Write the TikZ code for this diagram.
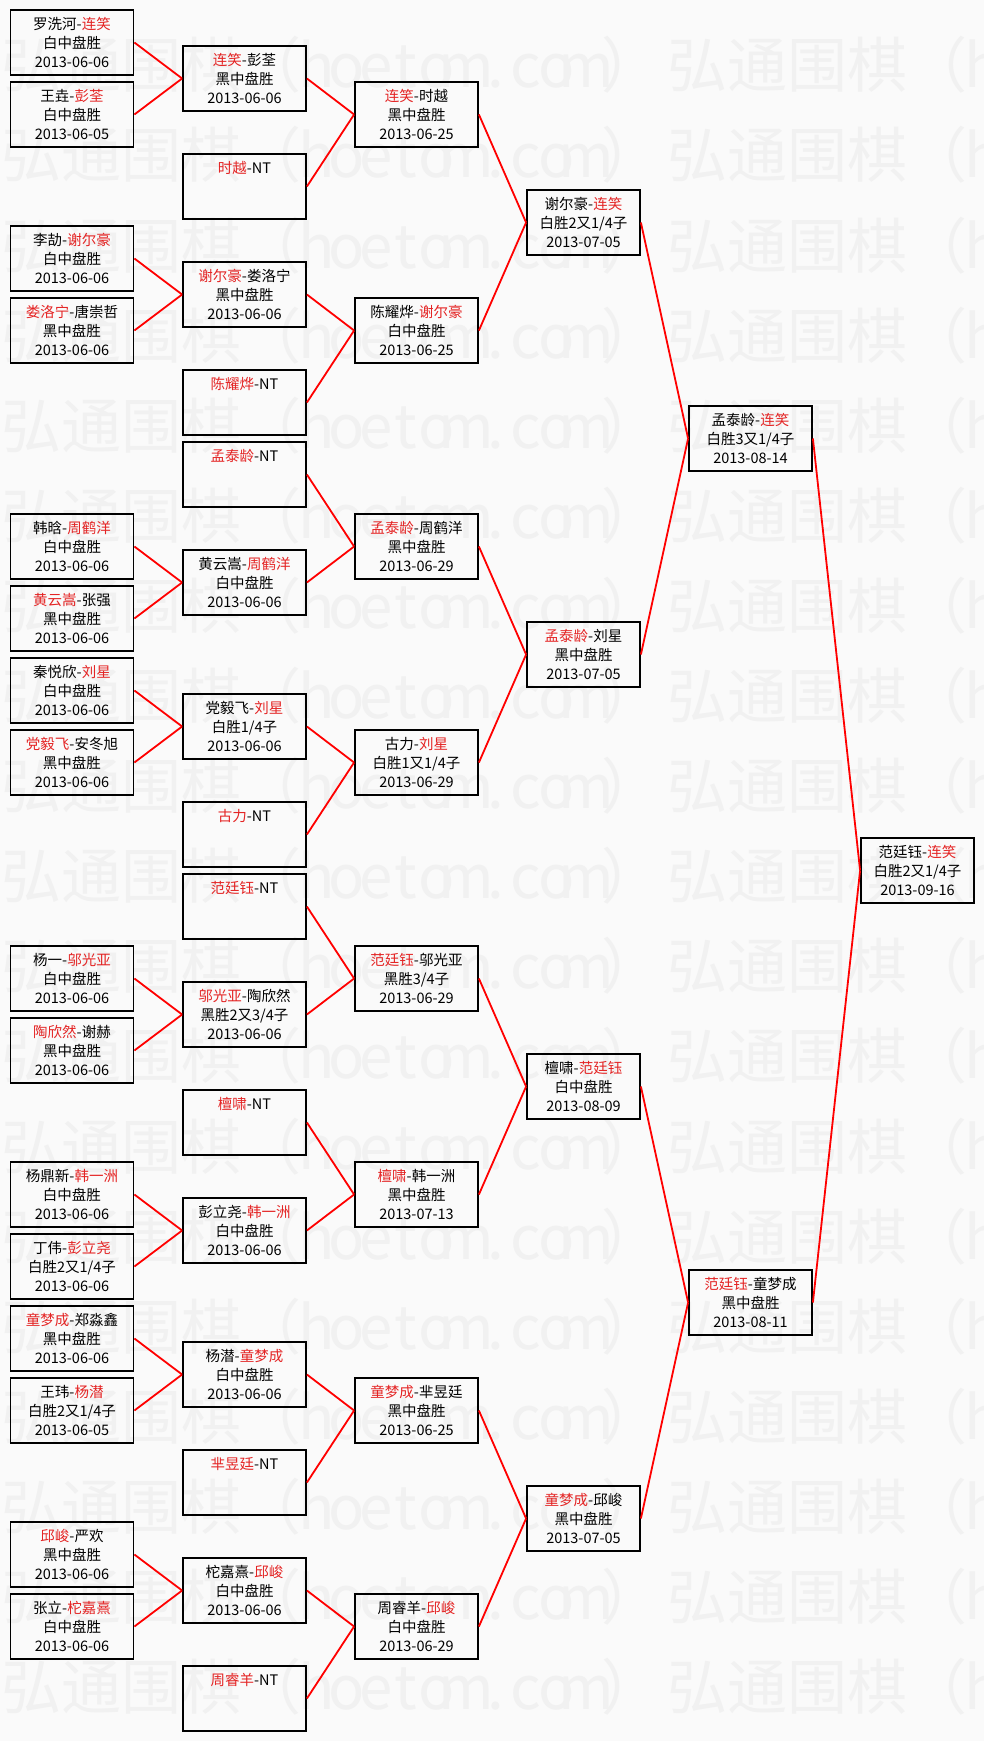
\documentclass[tikz,border=0pt]{standalone}
\usepackage{fontspec}
\usepackage{xcolor}
\newfontfamily\cjk{Noto Sans CJK SC}
\definecolor{winred}{RGB}{228,36,36}
\definecolor{paper}{RGB}{250,250,250}
\definecolor{wmgray}{RGB}{241,241,241}
\newcommand\win[1]{\textcolor{winred}{#1}}
\newcommand\hb[1]{\makebox[.5em]{#1}}
\tikzset{
  game/.style={draw, line width=1.8pt, inner sep=0pt, minimum height=65pt, align=center,
    font={\cjk\fontsize{14.5}{19}\selectfont}},
  wide/.style={game, minimum width=123pt},
  narrow/.style={game, minimum width=113pt},
  link/.style={draw=red, line width=1.8pt},
  wmark/.style={anchor=west, inner sep=0pt, text=wmgray, font={\cjk\fontsize{60}{60}\selectfont}},
}

\begin{document}
\begin{tikzpicture}[x=1pt,y=-1pt]
\useasboundingbox (0,0) rectangle (984,1741);
\fill[paper] (0,0) rectangle (984,1741);
\begin{scope}
\clip (0,0) rectangle (984,1741);
\foreach \k in {0,...,18} {
  \node[wmark] (wmA\k) at (1,{65+90.1*\k})
    {弘通围棋（\hb{h}\hb{o}\hb{e}\hb{t}\hb{o}\hb{m}\hb{.}\hb{c}\hb{o}\hb{m}）};
  \node[wmark] (wmB\k) at (667,{65+90.1*\k})
    {弘通围棋（\hb{h}\hb{o}\hb{e}\hb{t}\hb{o}\hb{m}\hb{.}\hb{c}\hb{o}\hb{m}）};
}
\end{scope}

% first round
\node[wide] (a1)  at (72,{42.5+72*0})  {罗洗河-\win{连笑}\\白中盘胜\\2013-06-06};
\node[wide] (a2)  at (72,{42.5+72*1})  {王垚-\win{彭荃}\\白中盘胜\\2013-06-05};
\node[wide] (a3)  at (72,{42.5+72*3})  {李劼-\win{谢尔豪}\\白中盘胜\\2013-06-06};
\node[wide] (a4)  at (72,{42.5+72*4})  {\win{娄洛宁}-唐崇哲\\黑中盘胜\\2013-06-06};
\node[wide] (a5)  at (72,{42.5+72*7})  {韩晗-\win{周鹤洋}\\白中盘胜\\2013-06-06};
\node[wide] (a6)  at (72,{42.5+72*8})  {\win{黄云嵩}-张强\\黑中盘胜\\2013-06-06};
\node[wide] (a7)  at (72,{42.5+72*9})  {秦悦欣-\win{刘星}\\白中盘胜\\2013-06-06};
\node[wide] (a8)  at (72,{42.5+72*10}) {\win{党毅飞}-安冬旭\\黑中盘胜\\2013-06-06};
\node[wide] (a9)  at (72,{42.5+72*13}) {杨一-\win{邬光亚}\\白中盘胜\\2013-06-06};
\node[wide] (a10) at (72,{42.5+72*14}) {\win{陶欣然}-谢赫\\黑中盘胜\\2013-06-06};
\node[wide] (a11) at (72,{42.5+72*16}) {杨鼎新-\win{韩一洲}\\白中盘胜\\2013-06-06};
\node[wide] (a12) at (72,{42.5+72*17}) {丁伟-\win{彭立尧}\\白胜2又1/4子\\2013-06-06};
\node[wide] (a13) at (72,{42.5+72*18}) {\win{童梦成}-郑淼鑫\\黑中盘胜\\2013-06-06};
\node[wide] (a14) at (72,{42.5+72*19}) {王玮-\win{杨潜}\\白胜2又1/4子\\2013-06-05};
\node[wide] (a15) at (72,{42.5+72*21}) {\win{邱峻}-严欢\\黑中盘胜\\2013-06-06};
\node[wide] (a16) at (72,{42.5+72*22}) {张立-\win{柁嘉熹}\\白中盘胜\\2013-06-06};

% second round, NT = bye
\node[wide] (b1)  at (244.5,{42.5+72*0.5})  {\win{连笑}-彭荃\\黑中盘胜\\2013-06-06};
\node[wide] (b2)  at (244.5,{42.5+72*2})    {\win{时越}-NT\\\mbox{}\\\mbox{}};
\node[wide] (b3)  at (244.5,{42.5+72*3.5})  {\win{谢尔豪}-娄洛宁\\黑中盘胜\\2013-06-06};
\node[wide] (b4)  at (244.5,{42.5+72*5})    {\win{陈耀烨}-NT\\\mbox{}\\\mbox{}};
\node[wide] (b5)  at (244.5,{42.5+72*6})    {\win{孟泰龄}-NT\\\mbox{}\\\mbox{}};
\node[wide] (b6)  at (244.5,{42.5+72*7.5})  {黄云嵩-\win{周鹤洋}\\白中盘胜\\2013-06-06};
\node[wide] (b7)  at (244.5,{42.5+72*9.5})  {党毅飞-\win{刘星}\\白胜1/4子\\2013-06-06};
\node[wide] (b8)  at (244.5,{42.5+72*11})   {\win{古力}-NT\\\mbox{}\\\mbox{}};
\node[wide] (b9)  at (244.5,{42.5+72*12})   {\win{范廷钰}-NT\\\mbox{}\\\mbox{}};
\node[wide] (b10) at (244.5,{42.5+72*13.5}) {\win{邬光亚}-陶欣然\\黑胜2又3/4子\\2013-06-06};
\node[wide] (b11) at (244.5,{42.5+72*15})   {\win{檀啸}-NT\\\mbox{}\\\mbox{}};
\node[wide] (b12) at (244.5,{42.5+72*16.5}) {彭立尧-\win{韩一洲}\\白中盘胜\\2013-06-06};
\node[wide] (b13) at (244.5,{42.5+72*18.5}) {杨潜-\win{童梦成}\\白中盘胜\\2013-06-06};
\node[wide] (b14) at (244.5,{42.5+72*20})   {\win{芈昱廷}-NT\\\mbox{}\\\mbox{}};
\node[wide] (b15) at (244.5,{42.5+72*21.5}) {柁嘉熹-\win{邱峻}\\白中盘胜\\2013-06-06};
\node[wide] (b16) at (244.5,{42.5+72*23})   {\win{周睿羊}-NT\\\mbox{}\\\mbox{}};

% third round
\node[wide] (c1) at (416.5,{42.5+72*1})  {\win{连笑}-时越\\黑中盘胜\\2013-06-25};
\node[wide] (c2) at (416.5,{42.5+72*4})  {陈耀烨-\win{谢尔豪}\\白中盘胜\\2013-06-25};
\node[wide] (c3) at (416.5,{42.5+72*7})  {\win{孟泰龄}-周鹤洋\\黑中盘胜\\2013-06-29};
\node[wide] (c4) at (416.5,{42.5+72*10}) {古力-\win{刘星}\\白胜1又1/4子\\2013-06-29};
\node[wide] (c5) at (416.5,{42.5+72*13}) {\win{范廷钰}-邬光亚\\黑胜3/4子\\2013-06-29};
\node[wide] (c6) at (416.5,{42.5+72*16}) {\win{檀啸}-韩一洲\\黑中盘胜\\2013-07-13};
\node[wide] (c7) at (416.5,{42.5+72*19}) {\win{童梦成}-芈昱廷\\黑中盘胜\\2013-06-25};
\node[wide] (c8) at (416.5,{42.5+72*22}) {周睿羊-\win{邱峻}\\白中盘胜\\2013-06-29};

% quarter finals
\node[narrow] (d1) at (583.5,{42.5+72*2.5})  {谢尔豪-\win{连笑}\\白胜2又1/4子\\2013-07-05};
\node[narrow] (d2) at (583.5,{42.5+72*8.5})  {\win{孟泰龄}-刘星\\黑中盘胜\\2013-07-05};
\node[narrow] (d3) at (583.5,{42.5+72*14.5}) {檀啸-\win{范廷钰}\\白中盘胜\\2013-08-09};
\node[narrow] (d4) at (583.5,{42.5+72*20.5}) {\win{童梦成}-邱峻\\黑中盘胜\\2013-07-05};

% semi finals and final
\node[wide] (e1) at (750.5,{42.5+72*5.5})  {孟泰龄-\win{连笑}\\白胜3又1/4子\\2013-08-14};
\node[wide] (e2) at (750.5,{42.5+72*17.5}) {\win{范廷钰}-童梦成\\黑中盘胜\\2013-08-11};
\node[narrow] (f) at (917.5,{42.5+72*11.5}) {范廷钰-\win{连笑}\\白胜2又1/4子\\2013-09-16};

\foreach \s/\t in {a1/b1,a2/b1,a3/b3,a4/b3,a5/b6,a6/b6,a7/b7,a8/b7,
                   a9/b10,a10/b10,a11/b12,a12/b12,a13/b13,a14/b13,a15/b15,a16/b15,
                   b1/c1,b2/c1,b3/c2,b4/c2,b5/c3,b6/c3,b7/c4,b8/c4,
                   b9/c5,b10/c5,b11/c6,b12/c6,b13/c7,b14/c7,b15/c8,b16/c8,
                   c1/d1,c2/d1,c3/d2,c4/d2,c5/d3,c6/d3,c7/d4,c8/d4,
                   d1/e1,d2/e1,d3/e2,d4/e2,e1/f,e2/f}
  \draw[link] (\s.east) -- (\t.west);
\end{tikzpicture}
\end{document}
